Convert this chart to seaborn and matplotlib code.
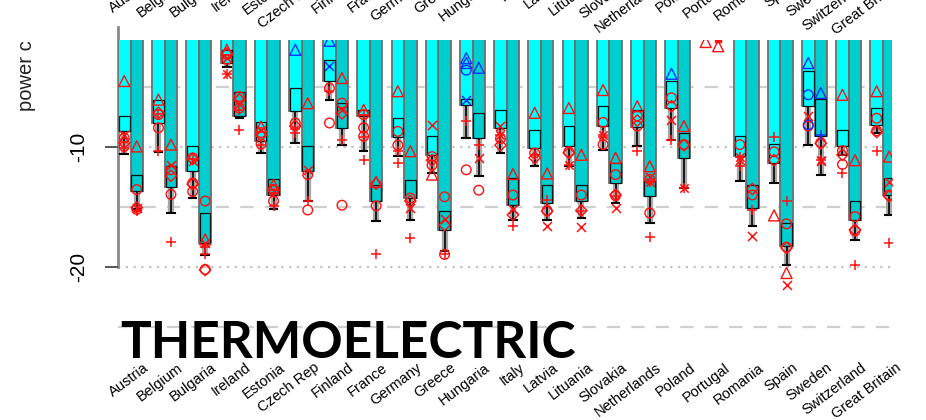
import numpy as np
import pandas as pd
import matplotlib
matplotlib.use("Agg")
import matplotlib.pyplot as plt
import seaborn as sns
from matplotlib import font_manager
from matplotlib.patches import Rectangle
from matplotlib.transforms import ScaledTranslation

# ---------------------------------------------------------------- data
countries = ["Austria", "Belgium", "Bulgaria", "Ireland", "Estonia", "Czech Rep",
             "Finland", "France", "Germany", "Greece", "Hungaria", "Italy", "Latvia",
             "Lituania", "Slovakia", "Netherlands", "Poland", "Portugal", "Romania",
             "Spain", "Sweden", "Switzerland", "Great Britain"]
nan = np.nan

# ensemble bar values (first and second period)
bar_a = [-8.7, -8.0, -12.0, -3.0, -9.5, -7.0, -4.5, -7.4, -9.2, -10.7, -6.5, -8.4,
         -10.1, -9.9, -8.25, -8.3, -6.75, nan, -10.75, -11.3, -6.6, -9.9, -8.2]
bar_b = [-13.7, -13.3, -18.0, -7.45, -14.0, -12.0, -8.4, -14.5, -14.25, -16.9, -9.25,
         -14.8, -14.7, -14.5, -13.0, -14.1, -10.9, nan, -15.1, -18.25, -9.1, -16.1, -14.0]
# upper edge of the spread box (box ends at the bar value)
box_a = [-7.4, -6.1, -9.9, -1.9, -7.9, -5.1, -2.75, -6.9, -7.6, -9.1, -6.0, -6.9,
         -8.6, -8.25, -6.6, -6.9, -4.5, nan, -9.1, -9.75, -3.7, -8.6, -6.75]
box_b = [-12.3, -11.6, -15.5, -5.4, -12.7, -9.9, -6.3, -13.2, -12.75, -15.3, -7.2,
         -12.6, -13.2, -13.2, -11.3, -12.8, -8.8, nan, -13.2, -16.3, -6.0, -14.5, -12.6]
# lower whisker ends
whisk_a = [-10.6, -10.4, -14.25, -3.3, -10.5, -9.7, -6.1, -10.3, -10.75, -12.2, -9.25,
           -10.5, -11.6, -11.6, -10.25, -9.9, -9.4, nan, -12.8, -13.0, -9.8, -10.7, -8.8]
whisk_b = [-15.2, -15.5, -19.0, -7.6, -15.2, -14.5, -9.8, -16.2, -16.1, -18.7, -12.4,
           -16.1, -16.1, -15.9, -14.7, -16.3, -13.4, nan, -16.6, -19.8, -12.3, -17.75, -15.7]

# individual model runs: (country, period, value)
red_tri = [("Austria", "a", -4.5), ("Austria", "b", -9.95), ("Belgium", "a", -6.05),
           ("Belgium", "b", -9.8), ("Bulgaria", "b", -17.7), ("Ireland", "a", -1.9),
           ("Estonia", "a", -8.3), ("Estonia", "b", -13.15), ("Czech Rep", "b", -6.35),
           ("Finland", "b", -4.25), ("France", "a", -6.9), ("France", "b", -12.9),
           ("Germany", "a", -5.35), ("Germany", "b", -10.35), ("Greece", "a", -12.3),
           ("Italy", "b", -12.25), ("Latvia", "a", -7.15), ("Latvia", "b", -12.2),
           ("Lituania", "a", -6.75), ("Lituania", "b", -10.65), ("Slovakia", "a", -5.25),
           ("Slovakia", "b", -10.9), ("Netherlands", "a", -6.6), ("Netherlands", "b", -11.6),
           ("Poland", "b", -8.25), ("Portugal", "a", -1.25), ("Portugal", "b", -1.6),
           ("Spain", "a", -15.7), ("Spain", "b", -20.5), ("Switzerland", "a", -5.65),
           ("Switzerland", "b", -11.1), ("Great Britain", "a", -5.35),
           ("Great Britain", "b", -10.8)]
blue_tri = [("Czech Rep", "a", -1.9), ("Finland", "a", -1.15), ("Hungaria", "a", -2.6),
            ("Hungaria", "a", -3.0), ("Hungaria", "b", -3.4), ("Poland", "a", -3.9),
            ("Sweden", "a", -3.0), ("Sweden", "b", -5.5)]
red_circle = [("Austria", "a", -9.25), ("Austria", "a", -9.95), ("Austria", "b", -13.55),
              ("Austria", "b", -15.2), ("Belgium", "a", -7.3), ("Belgium", "a", -8.4),
              ("Belgium", "b", -11.9), ("Belgium", "b", -13.95), ("Bulgaria", "a", -10.9),
              ("Bulgaria", "a", -13.0), ("Bulgaria", "a", -13.7), ("Bulgaria", "b", -14.5),
              ("Bulgaria", "b", -20.2), ("Ireland", "a", -2.3), ("Ireland", "a", -2.7),
              ("Ireland", "b", -5.8), ("Ireland", "b", -6.75), ("Estonia", "a", -8.8),
              ("Estonia", "a", -9.75), ("Estonia", "b", -13.55), ("Estonia", "b", -14.5),
              ("Czech Rep", "a", -8.0), ("Czech Rep", "b", -12.3), ("Czech Rep", "b", -15.25),
              ("Finland", "a", -5.1), ("Finland", "a", -8.0), ("Finland", "b", -6.35),
              ("Finland", "b", -14.85), ("France", "a", -7.3), ("France", "a", -8.4),
              ("France", "a", -9.1), ("France", "b", -14.9), ("Germany", "a", -8.7),
              ("Germany", "a", -9.85), ("Germany", "b", -14.25), ("Greece", "a", -10.8),
              ("Greece", "a", -11.5), ("Greece", "b", -14.15), ("Greece", "b", -18.95),
              ("Hungaria", "a", -11.9), ("Hungaria", "b", -13.6), ("Italy", "a", -9.3),
              ("Italy", "b", -14.0), ("Latvia", "a", -10.5), ("Latvia", "b", -15.3),
              ("Lituania", "a", -10.4), ("Lituania", "b", -14.0), ("Slovakia", "a", -7.95),
              ("Slovakia", "a", -9.8), ("Slovakia", "b", -12.3), ("Slovakia", "b", -14.05),
              ("Netherlands", "a", -7.4), ("Netherlands", "a", -8.25),
              ("Netherlands", "b", -12.7), ("Netherlands", "b", -15.5), ("Poland", "a", -5.9),
              ("Poland", "b", -9.8), ("Romania", "a", -9.8), ("Romania", "b", -14.0),
              ("Spain", "a", -10.4), ("Spain", "b", -16.4), ("Spain", "b", -18.35),
              ("Sweden", "a", -8.25), ("Sweden", "b", -9.65), ("Switzerland", "a", -10.3),
              ("Switzerland", "a", -11.45), ("Switzerland", "b", -15.8),
              ("Switzerland", "b", -17.0), ("Great Britain", "a", -7.6),
              ("Great Britain", "a", -8.65), ("Great Britain", "b", -14.0)]
blue_circle = [("Hungaria", "a", -3.6), ("Sweden", "a", -5.65), ("Sweden", "a", -8.15)]
red_diamond = [("Austria", "a", -9.65), ("Austria", "b", -15.05), ("Belgium", "a", -7.15),
               ("Belgium", "b", -12.4), ("Bulgaria", "a", -11.0), ("Bulgaria", "a", -13.1),
               ("Bulgaria", "b", -20.25), ("Ireland", "a", -2.2), ("Ireland", "b", -6.05),
               ("Estonia", "a", -9.0), ("Estonia", "b", -13.6), ("Czech Rep", "a", -8.25),
               ("Finland", "b", -7.2), ("France", "b", -13.05), ("Germany", "b", -14.5),
               ("Greece", "a", -11.1), ("Greece", "b", -16.5), ("Italy", "a", -9.85),
               ("Italy", "b", -15.65), ("Latvia", "a", -10.9), ("Latvia", "b", -15.35),
               ("Lituania", "a", -10.5), ("Lituania", "b", -15.3), ("Slovakia", "b", -14.0),
               ("Netherlands", "a", -7.8), ("Poland", "a", -6.6), ("Poland", "b", -9.85),
               ("Romania", "b", -13.5), ("Spain", "a", -11.1), ("Spain", "b", -18.4),
               ("Sweden", "b", -9.7), ("Switzerland", "a", -10.65), ("Switzerland", "b", -16.9),
               ("Great Britain", "a", -8.75), ("Great Britain", "b", -14.1)]
red_x = [("Austria", "a", -9.0), ("Austria", "b", -15.1), ("Belgium", "b", -11.5),
         ("Bulgaria", "a", -11.2), ("Bulgaria", "b", -18.0), ("Ireland", "a", -2.6),
         ("Ireland", "b", -6.4), ("Estonia", "a", -8.6), ("Estonia", "b", -13.7),
         ("Czech Rep", "b", -11.9), ("Finland", "b", -6.9), ("Germany", "b", -15.1),
         ("Greece", "a", -8.15), ("Greece", "b", -16.0), ("Hungaria", "b", -10.9),
         ("Italy", "a", -8.25), ("Italy", "b", -15.2), ("Latvia", "b", -16.6),
         ("Lituania", "b", -16.7), ("Slovakia", "b", -15.1), ("Netherlands", "b", -12.5),
         ("Poland", "a", -7.75), ("Romania", "a", -11.1), ("Romania", "b", -17.4),
         ("Spain", "b", -21.5), ("Sweden", "a", -7.4), ("Sweden", "b", -11.2),
         ("Great Britain", "b", -12.95)]
blue_x = [("Finland", "a", -3.25), ("Hungaria", "a", -6.1)]
red_plus = [("Austria", "a", -10.1), ("Austria", "b", -15.3), ("Belgium", "a", -7.25),
            ("Belgium", "a", -10.35), ("Belgium", "b", -17.9), ("Bulgaria", "a", -11.0),
            ("Bulgaria", "b", -18.3), ("Bulgaria", "b", -18.95), ("Ireland", "b", -6.9),
            ("Ireland", "b", -8.55), ("Estonia", "a", -9.8), ("Estonia", "b", -13.8),
            ("Estonia", "b", -14.95), ("Czech Rep", "a", -8.5), ("Czech Rep", "a", -8.8),
            ("Czech Rep", "b", -14.5), ("Finland", "a", -5.3), ("Finland", "b", -9.4),
            ("France", "a", -7.3), ("France", "a", -9.2), ("France", "a", -11.1),
            ("France", "b", -18.9), ("Germany", "a", -10.3), ("Germany", "a", -11.3),
            ("Germany", "b", -17.6), ("Greece", "b", -18.9), ("Hungaria", "a", -7.85),
            ("Hungaria", "b", -9.85), ("Italy", "b", -16.6), ("Latvia", "a", -10.7),
            ("Latvia", "b", -14.4), ("Lituania", "b", -15.35), ("Slovakia", "a", -9.2),
            ("Slovakia", "b", -14.1), ("Netherlands", "a", -10.3), ("Netherlands", "b", -17.5),
            ("Poland", "a", -9.45), ("Romania", "a", -11.6), ("Romania", "b", -15.25),
            ("Spain", "a", -9.15), ("Spain", "b", -14.5), ("Switzerland", "a", -12.2),
            ("Switzerland", "b", -19.8), ("Great Britain", "a", -10.35),
            ("Great Britain", "b", -18.0)]
blue_plus = [("Sweden", "b", -9.0)]
red_star = [("Ireland", "a", -3.95), ("Italy", "a", -9.0), ("Lituania", "a", -11.5),
            ("Slovakia", "a", -9.0), ("Netherlands", "b", -12.9), ("Poland", "b", -13.4),
            ("Romania", "a", -10.8), ("Sweden", "b", -11.1)]
red_square = [("Portugal", "b", -1.0)]

y_ticks = [-10, -20]
y_tick_labels = ["-10", "-20"]
dashed_levels = [-5, -15, -25]
dotted_levels = [-10, -20]
title = "THERMOELECTRIC"
y_label = "power c"

# ---------------------------------------------------------------- layout
W, H = 926, 420
fig = plt.figure(figsize=(W / 100, H / 100), dpi=100)
plt.rcParams["font.family"] = ["Liberation Sans", "DejaVu Sans"]

px_left, px_right, px_top, px_bottom = 118, 892, 40, 355
ax = fig.add_axes([px_left / W, 1 - px_bottom / H,
                   (px_right - px_left) / W, (px_bottom - px_top) / H])

col_a, col_b = "#00FFFF", "#00CDCD"
width = 0.73
half = width / 4.0
bw = width / 2.0

df = pd.DataFrame({"country": countries * 2,
                   "period": ["a"] * len(countries) + ["b"] * len(countries),
                   "value": bar_a + bar_b})
sns.barplot(data=df, x="country", y="value", hue="period", order=countries,
            hue_order=["a", "b"], palette={"a": col_a, "b": col_b}, width=width,
            saturation=1, errorbar=None, edgecolor="#6e6e6e", linewidth=1.3,
            legend=False, ax=ax, zorder=2)

xlim = ((px_left - 130.5) / 34.2, (px_right - 130.5) / 34.2)
ylim = ((27 - px_bottom) / 12.0, (27 - px_top) / 12.0)

# reference lines
for lv in dashed_levels:
    ax.axhline(lv, color="#cfcfcf", lw=1.6, ls=(0, (6, 5)), zorder=0)
for lv in dotted_levels:
    ax.axhline(lv, color="#c4c4c4", lw=1.6, ls=(0, (1, 2.5)), zorder=0)

# spread boxes and whiskers
for period, bars, boxes, whisks, col, off in [("a", bar_a, box_a, whisk_a, col_a, -half),
                                             ("b", bar_b, box_b, whisk_b, col_b, half)]:
    for i, (bv, bt, wv) in enumerate(zip(bars, boxes, whisks)):
        if np.isnan(bv):
            continue
        x = i + off
        ax.plot([x, x], [bv, wv], color="#a8a8a8", lw=4.5, solid_capstyle="butt", zorder=2.5)
        ax.plot([x, x], [bv, wv], color="black", lw=1.2, zorder=2.6)
        ax.plot([x - 0.11, x + 0.11], [wv, wv], color="black", lw=1.5, zorder=2.6)
        ax.add_patch(Rectangle((x - bw * 0.42, bv), bw * 0.84, bt - bv, facecolor=col,
                               edgecolor="#111111", lw=0.9, zorder=3))


def xy(points):
    xs = [countries.index(c) + (-half if p == "a" else half) for c, p, v in points]
    ys = [v for c, p, v in points]
    return xs, ys


red, blue = "#FF1010", "#1030FF"
open_kw = dict(facecolors="none", linewidths=1.0, zorder=5)
for pts, mk, s, col in [(red_tri, "^", 62, red), (blue_tri, "^", 62, blue),
                        (red_circle, "o", 48, red), (blue_circle, "o", 48, blue),
                        (red_diamond, "D", 34, red)]:
    xs, ys = xy(pts)
    ax.scatter(xs, ys, marker=mk, s=s, edgecolors=col, **open_kw)
for pts, mk, s, col in [(red_x, "x", 42, red), (blue_x, "x", 42, blue),
                        (red_plus, "+", 62, red), (blue_plus, "+", 62, blue),
                        (red_star, "x", 36, red), (red_star, "+", 52, red)]:
    xs, ys = xy(pts)
    ax.scatter(xs, ys, marker=mk, s=s, color=col, linewidths=1.1, zorder=5)
xs, ys = xy(red_square)
ax.scatter(xs, ys, marker="s", s=14, color=red, zorder=5)

ax.set_xlim(*xlim)
ax.set_ylim(*ylim)
ax.set_xlabel("")
ax.set_ylabel("")

# axes styling
for side in ["top", "right", "bottom"]:
    ax.spines[side].set_visible(False)
ax.spines["left"].set_color("#8a8a8a")
ax.spines["left"].set_linewidth(2.0)
ax.spines["left"].set_bounds(-20, 0)
ax.spines["left"].set_zorder(1)
ax.set_yticks(y_ticks)
ax.set_yticklabels(y_tick_labels)
ax.tick_params(axis="y", length=9.5, width=1.4, color="#555555", labelsize=15,
               labelrotation=90, pad=12)
for lab in ax.get_yticklabels():
    lab.set_verticalalignment("center")

label_kw = dict(rotation=37, ha="right", rotation_mode="anchor", fontsize=10.5)
shift = ScaledTranslation(12 / 100, 0, fig.dpi_scale_trans)
ax.set_xticks(range(len(countries)))
ax.set_xticklabels(countries, **label_kw)
ax.tick_params(axis="x", length=0, pad=4)
for lab in ax.get_xticklabels():
    lab.set_transform(lab.get_transform() + shift)

# labels of the panel above, partly outside the canvas
ax_up = fig.add_axes([px_left / W, 1 - (px_bottom - 384) / H,
                      (px_right - px_left) / W, 0.02])
ax_up.set_xlim(*xlim)
ax_up.set_yticks([])
ax_up.set_xticks(range(len(countries)))
ax_up.set_xticklabels(countries, **label_kw)
ax_up.tick_params(axis="x", length=0, pad=4)
for lab in ax_up.get_xticklabels():
    lab.set_transform(lab.get_transform() + shift)
for sp in ax_up.spines.values():
    sp.set_visible(False)
ax_up.patch.set_visible(False)

fig.text(26 / W, 1 - 76 / H, y_label, rotation=90, ha="center", va="center",
         fontsize=14.5, color="#222222")

# panel title
names = {f.name for f in font_manager.fontManager.ttflist}
title_family = next((n for n in ["Liberation Sans Narrow", "Lato", "Roboto"] if n in names),
                    "DejaVu Sans")
t = fig.text(120 / W, 1 - 358 / H, title, ha="left", va="baseline", fontsize=44,
             fontweight="bold", family=title_family, color="black", zorder=10)
fig.canvas.draw()
bb = t.get_window_extent(renderer=fig.canvas.get_renderer())
t.set_fontsize(44 * 455.0 / bb.width)

fig.savefig("out.png", dpi=100)
